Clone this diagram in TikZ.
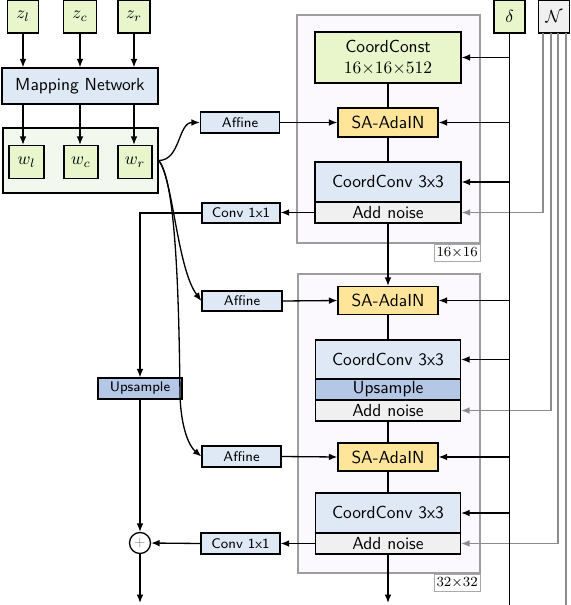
\documentclass[tikz,border=0pt]{standalone}
\usetikzlibrary{arrows.meta}
\definecolor{cgreen}{HTML}{E9F6CC}
\definecolor{cblue}{HTML}{DEE9F5}
\definecolor{cups}{HTML}{B4C7E7}
\definecolor{cyel}{HTML}{FFE599}
\definecolor{cnoise}{HTML}{F0F0F0}
\definecolor{cmod}{HTML}{FBF9FD}
\definecolor{cwbox}{HTML}{F3F8EE}
\definecolor{cgline}{HTML}{8C8C8C}
\begin{document}
\begin{tikzpicture}[x=0.573pt,y=-0.573pt,
  sz/.style 2 args={minimum width=#1*0.573pt,minimum height=#2*0.573pt},
  blk/.style={draw,line width=0.75pt,inner sep=0pt,font=\sffamily,align=center},
  small/.style={font=\sffamily\footnotesize},
  gbox/.style={blk,fill=cgreen},
  bbox/.style={blk,fill=cblue},
  ubox/.style={blk,fill=cups},
  ybox/.style={blk,fill=cyel},
  nbox/.style={blk,fill=cnoise},
  modbox/.style={draw=cgline!85,fill=cmod,line width=0.6pt,inner sep=0pt},
  lab/.style={draw=cgline!75,fill=white,line width=0.4pt,anchor=north east,font=\footnotesize,inner sep=0pt,sz={46}{17}},
  ln/.style={line width=0.75pt},
  arr/.style={ln,-{Latex[length=4.8pt,width=3.8pt]}},
  gln/.style={line width=0.7pt,color=cgline},
  garr/.style={gln,-{Latex[length=4.8pt,width=3.8pt]}},
]
\useasboundingbox (0,0) rectangle (571,605);

% module frames
\node[modbox,sz={183}{228}] (m1) at (388.5,129) {};
\node[modbox,sz={182}{299}] (m2) at (389,423.5) {};
\node[lab] (l1) at (m1.south east) {$16{\times}16$};
\node[lab] (l2) at (m2.south east) {$32{\times}32$};

% left column
\node[gbox,sz={31}{33}] (zl) at (23,16.5) {$z_l$};
\node[gbox,sz={33}{33}] (zc) at (80,16.5) {$z_c$};
\node[gbox,sz={32}{33}] (zr) at (134,16.5) {$z_r$};
\node[bbox,sz={156}{36}] (map) at (80,86) {Mapping Network};
\node[draw,line width=0.75pt,fill=cwbox,inner sep=0pt,sz={155}{65}] (wbox) at (80.5,160.5) {};
\node[gbox,sz={35}{33}] (wl) at (26.5,162) {$w_l$};
\node[gbox,sz={34}{33}] (wc) at (81,162) {$w_c$};
\node[gbox,sz={34}{33}] (wr) at (135,162) {$w_r$};

\node[bbox,small,sz={79}{21}] (af1) at (240,122.5) {Affine};
\node[bbox,small,sz={78}{20}] (cx1) at (241,213) {Conv 1x1};
\node[bbox,small,sz={80}{20}] (af2) at (242,301) {Affine};
\node[ubox,small,sz={84}{21}] (upl) at (140,388.5) {Upsample};
\node[bbox,small,sz={79}{21}] (af3) at (241.5,456.5) {Affine};
\node[bbox,small,sz={79}{21}] (cx2) at (240.5,543.5) {Conv 1x1};
\node[draw,circle,line width=0.75pt,fill=white,minimum size=21*0.573pt,inner sep=0pt] (plus) at (140,543) {\color{cgline}\footnotesize$+$};

% module 1
\node[gbox,sz={146}{51}] (cc) at (388,57.5) {CoordConst\\$16{\times}16{\times}512$};
\node[ybox,sz={100}{29}] (sa1) at (388,122.5) {SA-AdaIN};
\node[bbox,sz={146}{40}] (cv1) at (388,182) {CoordConv 3x3};
\node[nbox,sz={146}{21}] (an1) at (388,212.5) {Add noise};

% module 2
\node[ybox,sz={100}{28}] (sa2) at (388,300.5) {SA-AdaIN};
\node[bbox,sz={145}{39}] (cv2) at (388,359.5) {CoordConv 3x3};
\node[ubox,sz={145}{21}] (up2) at (388,389.5) {Upsample};
\node[nbox,sz={145}{21}] (an2) at (388,410.5) {Add noise};
\node[ybox,sz={100}{28}] (sa3) at (388,457) {SA-AdaIN};
\node[bbox,sz={145}{40}] (cv3) at (388,513) {CoordConv 3x3};
\node[nbox,sz={145}{21}] (an3) at (388,543.5) {Add noise};

% delta and noise inputs
\node[gbox,sz={31}{33}] (dl) at (509.5,16.5) {$\delta$};
\node[nbox,sz={31}{33}] (nn) at (554,16.5) {$\mathcal{N}$};
\coordinate (n1) at (543,33);
\coordinate (n2) at (551,33);
\coordinate (n3) at (558,33);
\coordinate (n4) at (566,33);
\coordinate (n4e) at (566,605);
\coordinate (dend) at (509.5,605);
\coordinate (o1) at (140,603);
\coordinate (o2) at (388,603);
\coordinate (k3) at (180,395);

\draw[garr] (n1) |- (an1.east);
\draw[garr] (n2) |- (an2.east);
\draw[garr] (n3) |- (an3.east);
\draw[gln] (n4) -- (n4e);

\draw[ln] (dl.south) -- (dend);
\foreach \t in {cc,sa1,cv1,sa2,cv2,sa3,cv3}
  \draw[arr] (dl |- \t.east) -- (\t.east);

% mapping
\foreach \z/\w in {zl/wl,zc/wc,zr/wr}{
  \draw[arr] (\z.south) -- (map.north -| \z);
  \draw[arr] (map.south -| \z) -- (\w.north -| \z);
}

% w to affine
\draw[arr] (wbox.east) to[out=0,in=180] (af1.west);
\draw[arr] (wbox.east) .. controls (173,178) and (177,268) .. (af2.west);
\draw[arr] (wbox.east) .. controls (176,180) and (179,300) .. (k3)
  .. controls (181,428) and (189,446) .. (af3.west);
\draw[arr] (af1.east) -- (sa1.west);
\draw[arr] (af2.east) -- (sa2.west);
\draw[arr] (af3.east) -- (sa3.west);

% module internal
\draw[ln] (cc.south) -- (sa1.north);
\draw[ln] (sa1.south) -- (cv1.north);
\draw[arr] (an1.south) -- (sa2.north);
\draw[ln] (sa2.south) -- (cv2.north);
\draw[ln] (an2.south) -- (sa3.north);
\draw[ln] (sa3.south) -- (cv3.north);
\draw[arr] (an3.south) -- (o2);

% skip branch
\draw[arr] (an1.west) -- (an1.west -| cx1.east);
\draw[arr] (cx1.west) -| (upl.north);
\draw[arr] (upl.south) -- (plus.north);
\draw[arr] (an3.west) -- (an3.west -| cx2.east);
\draw[arr] (cx2.west) -- (plus.east);
\draw[arr] (plus.south) -- (o1);
\end{tikzpicture}
\end{document}
